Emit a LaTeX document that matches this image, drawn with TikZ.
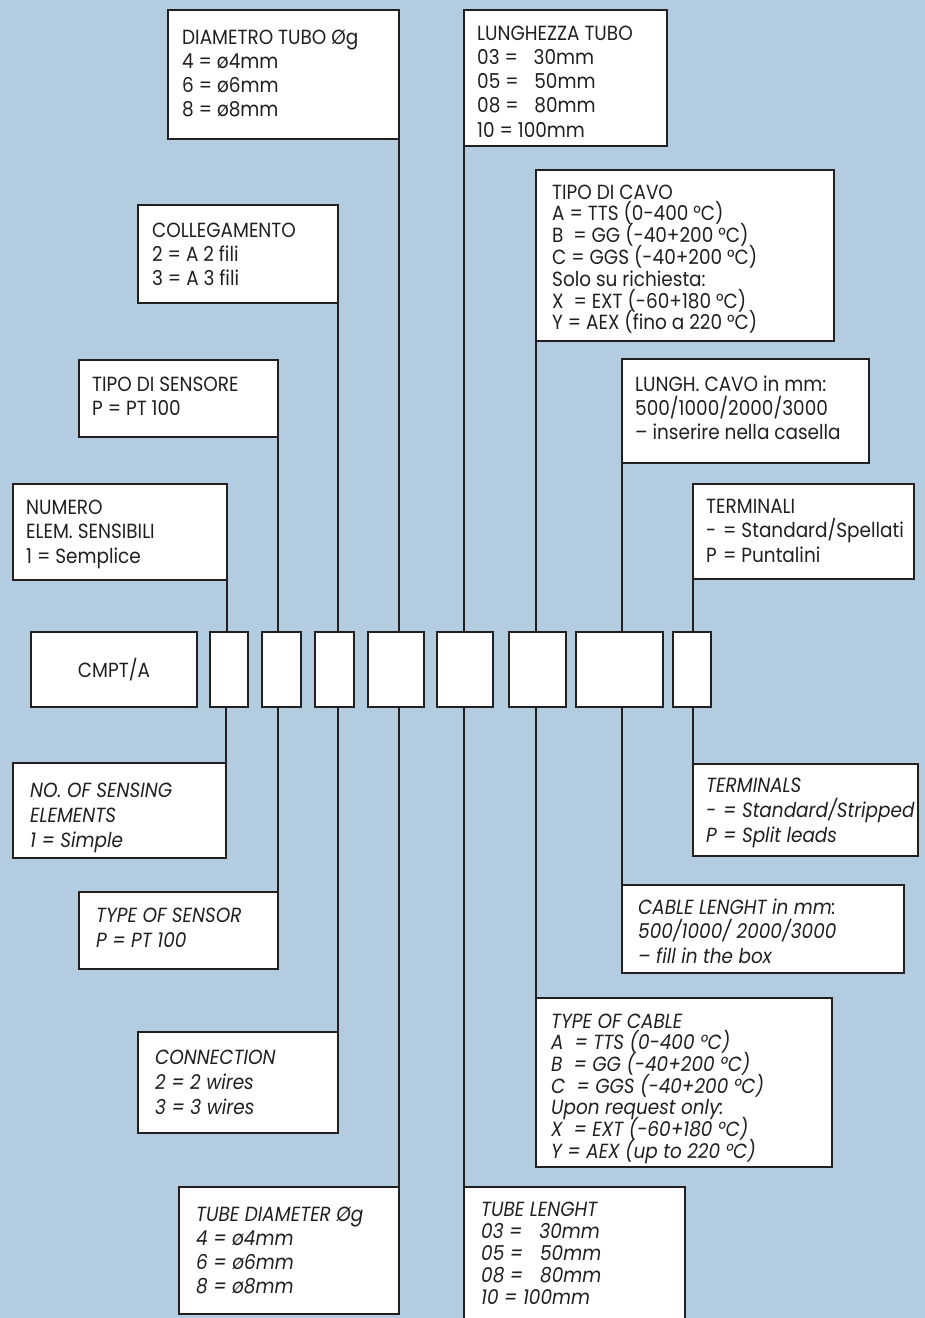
\documentclass[tikz,border=0pt]{standalone}
\usepackage{fontspec}
\setmainfont{Poppins}[FakeStretch=0.9]
\definecolor{bg}{HTML}{B4CCDF}
\definecolor{ink}{HTML}{231F20}
\newcommand\txtlines[2]{\parbox[t]{300pt}{\raggedright\fontsize{20.5}{#1}\selectfont\lineskiplimit=-\maxdimen #2}}
\newcommand\bx[5]{\node[panel, minimum width={#4-#2}, minimum height={#5-#3}] (#1) at ({(#2+#4)/2},{(#3+#5)/2}) {};}
\newcommand\eqbox[1]{\makebox[17pt][l]{#1}}
\begin{document}
\begin{tikzpicture}[x=1pt,y=-1pt,
  panel/.style={draw=ink, fill=white, line width=1.5pt, inner sep=0pt, outer sep=0pt},
  link/.style={draw=ink, line width=1.2pt},
  txt/.style={inner sep=0pt, anchor=base west, text=ink}]
\fill[bg] (0,0) rectangle (925,1318);
\useasboundingbox (0,0) rectangle (925,1318);
% top panels
\bx{dia}{168}{10}{399}{139}
\bx{lun}{464}{10}{667}{146}
\bx{col}{138}{205}{338}{303}
\bx{cav}{536}{170}{834}{341}
\bx{sen}{79}{360}{278}{437}
\bx{lcv}{622}{359}{869}{463}
\bx{num}{13}{484}{227}{580}
\bx{ter}{693}{484}{914}{579}
% code row
\bx{cmpt}{31}{632}{197}{707}
\bx{b1}{210}{632}{248}{707}
\bx{b2}{262}{632}{301}{707}
\bx{b3}{315}{632}{354}{707}
\bx{b4}{368}{632}{424}{707}
\bx{b5}{437}{632}{493}{707}
\bx{b6}{509}{632}{566}{707}
\bx{b7}{576}{632}{663}{707}
\bx{b8}{673}{632}{711}{707}
% bottom panels
\bx{nos}{13}{763}{226}{858}
\bx{tms}{693}{764}{918}{856}
\bx{tos}{79}{892}{278}{969}
\bx{cbl}{622}{885}{904}{973}
\bx{con}{138}{1032}{338}{1133}
\bx{toc}{536}{998}{832}{1167}
\bx{tdi}{179}{1187}{399}{1314}
\bx{tle}{464}{1187}{685}{1330}
% connectors top
\draw[link] (dia.south east) -- (dia.south east |- b4.north);
\draw[link] (lun.south west) -- (lun.south west |- b5.north);
\draw[link] (col.south east) -- (col.south east |- b3.north);
\draw[link] (cav.south west) -- (cav.south west |- b6.north);
\draw[link] (sen.south east) -- (sen.south east |- b2.north);
\draw[link] (lcv.south west) -- (lcv.south west |- b7.north);
\draw[link] (num.south east) -- (num.south east |- b1.north);
\draw[link] (ter.south west) -- (ter.south west |- b8.north);
% connectors bottom
\draw[link] (b1.south -| nos.north east) -- (nos.north east);
\draw[link] (b2.south -| tos.north east) -- (tos.north east);
\draw[link] (b3.south -| con.north east) -- (con.north east);
\draw[link] (b4.south -| tdi.north east) -- (tdi.north east);
\draw[link] (b5.south -| tle.north west) -- (tle.north west);
\draw[link] (b6.south -| toc.north west) -- (toc.north west);
\draw[link] (b7.south -| cbl.north west) -- (cbl.north west);
\draw[link] (b8.south -| tms.north west) -- (tms.north west);
% texts top (Italian)
\node[txt] (diat) at (182,44) {\txtlines{24}{DIAMETRO TUBO Øg\\4 = ø4mm\\6 = ø6mm\\8 = ø8mm}};
\node[txt] (lunt) at (477,40) {\txtlines{24.3}{LUNGHEZZA TUBO\\03 = \ \hphantom{1}30mm\\05 = \ \hphantom{1}50mm\\08 = \ \hphantom{1}80mm\\10 = 100mm}};
\node[txt] (colt) at (152,237) {\txtlines{24}{COLLEGAMENTO\\2 = A 2 fili\\3 = A 3 fili}};
\node[txt] (cavt) at (552,199) {\txtlines{21.8}{TIPO DI CAVO\\A = TTS (0-400 °C)\\B \ = GG (-40+200 °C)\\C = GGS (-40+200 °C)\\Solo su richiesta:\\X \ = EXT (-60+180 °C)\\Y = AEX (fino a 220 °C)}};
\node[txt] (sent) at (92,391) {\txtlines{24}{TIPO DI SENSORE\\P = PT 100}};
\node[txt] (lcvt) at (635,391) {\txtlines{24}{LUNGH. CAVO in mm:\\500/1000/2000/3000\\– inserire nella casella}};
\node[txt] (numt) at (26,514) {\txtlines{24.5}{NUMERO\\ELEM. SENSIBILI\\1 = Semplice}};
\node[txt] (tert) at (706,513) {\txtlines{24.5}{TERMINALI\\\eqbox{-}= Standard/Spellati\\\eqbox{P}= Puntalini}};
\node[text=ink, inner sep=0pt] (cmptt) at (cmpt.center) {\fontsize{20.5}{24}\selectfont CMPT/A};
% texts bottom (English, italic)
\node[txt] (nost) at (30,797) {\itshape\txtlines{25}{\itshape NO. OF SENSING\\ELEMENTS\\1 = Simple}};
\node[txt] (tmst) at (706,792) {\txtlines{25}{\itshape TERMINALS\\\eqbox{-}= Standard/Stripped\\\eqbox{P}= Split leads}};
\node[txt] (tost) at (96,922) {\txtlines{25}{\itshape TYPE OF SENSOR\\P = PT 100}};
\node[txt] (cblt) at (638,914) {\txtlines{24.5}{\itshape CABLE LENGHT in mm:\\500/1000/ 2000/3000\\– fill in the box}};
\node[txt] (cont) at (155,1064) {\txtlines{25}{\itshape CONNECTION\\2 = 2 wires\\3 = 3 wires}};
\node[txt] (toct) at (551,1028) {\txtlines{21.7}{\itshape TYPE OF CABLE\\A \ = TTS (0-400 °C)\\B \ = GG (-40+200 °C)\\C \ = GGS (-40+200 °C)\\Upon request only:\\X \ = EXT (-60+180 °C)\\Y = AEX (up to 220 °C)}};
\node[txt] (tdit) at (196,1221) {\txtlines{24}{\itshape TUBE DIAMETER Øg\\4 = ø4mm\\6 = ø6mm\\8 = ø8mm}};
\node[txt] (tlet) at (481,1216) {\txtlines{22}{\itshape TUBE LENGHT\\03 = \ \hphantom{1}30mm\\05 = \ \hphantom{1}50mm\\08 = \ \hphantom{1}80mm\\10 = 100mm}};
\end{tikzpicture}
\end{document}
